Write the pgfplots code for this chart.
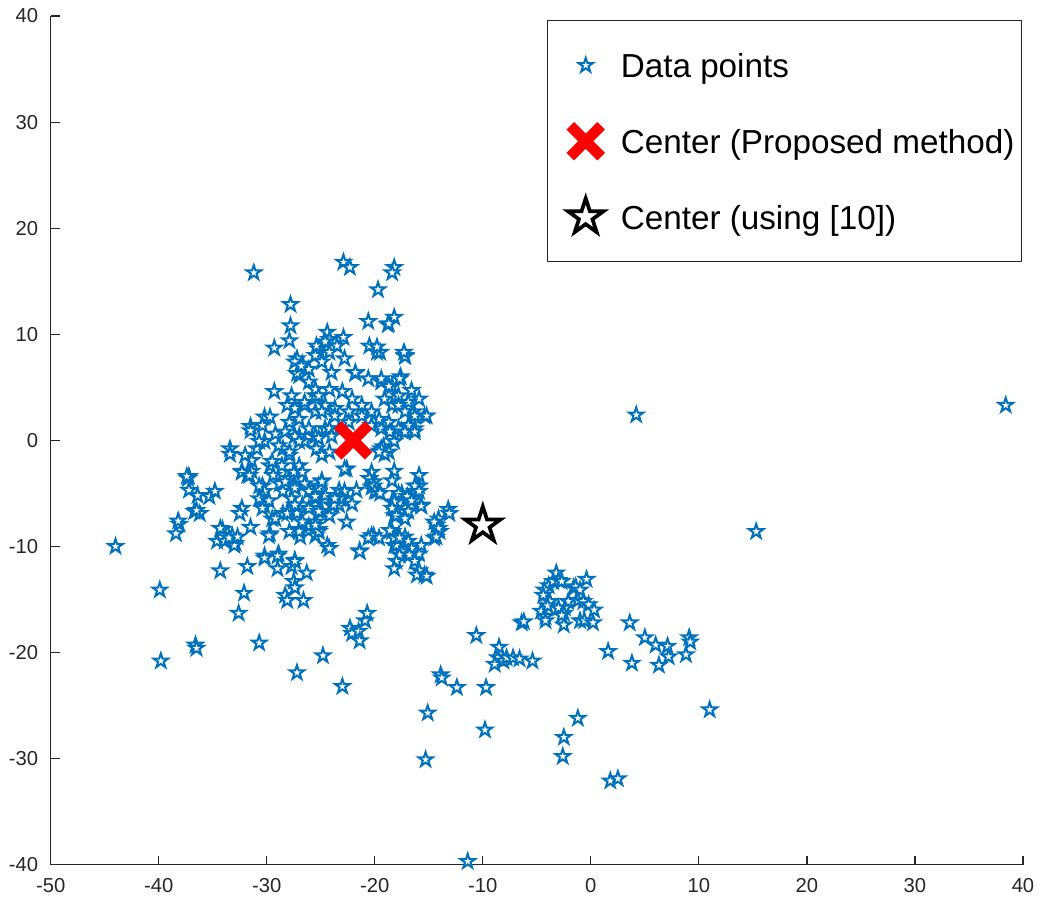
\documentclass[border=0pt]{standalone}
\usepackage{pgfplots}
\pgfplotsset{compat=1.18}
\usepackage{fontspec}
\setmainfont{Liberation Sans}
\definecolor{mblue}{rgb}{0,0.447,0.741}
\definecolor{axgray}{rgb}{0.15,0.15,0.15}
\pgfdeclareplotmark{pentagram}{%
  \pgfpathmoveto{\pgfpointpolar{90}{\pgfplotmarksize}}%
  \pgfpathlineto{\pgfpointpolar{126}{0.382*\pgfplotmarksize}}%
  \pgfpathlineto{\pgfpointpolar{162}{\pgfplotmarksize}}%
  \pgfpathlineto{\pgfpointpolar{198}{0.382*\pgfplotmarksize}}%
  \pgfpathlineto{\pgfpointpolar{234}{\pgfplotmarksize}}%
  \pgfpathlineto{\pgfpointpolar{270}{0.382*\pgfplotmarksize}}%
  \pgfpathlineto{\pgfpointpolar{306}{\pgfplotmarksize}}%
  \pgfpathlineto{\pgfpointpolar{342}{0.382*\pgfplotmarksize}}%
  \pgfpathlineto{\pgfpointpolar{18}{\pgfplotmarksize}}%
  \pgfpathlineto{\pgfpointpolar{54}{0.382*\pgfplotmarksize}}%
  \pgfpathclose
  \pgfusepathqfillstroke
}
\pgfplotsset{myleg/.style={legend image code/.code={\path (0pt,0pt) (21pt,0pt); \draw[##1] plot coordinates {(11.8pt,0pt)};}}}
\begin{document}
\begin{tikzpicture}
\begin{axis}[
  scale only axis, width=365.6pt, height=319.1pt,
  xmin=-50, xmax=40, ymin=-40, ymax=40,
  axis x line*=bottom, axis y line*=left,
  axis line style={axgray, line width=0.45pt},
  tick align=inside, major tick length=3.4pt,
  tick style={axgray, line width=0.45pt},
  xtick={-50,-40,...,40}, xticklabels={-50,-40,-30,-20,-10,0,10,20,30,40},
  ytick={-40,-30,...,40}, yticklabels={-40,-30,-20,-10,0,10,20,30,40},
  ticklabel style={font=\fontsize{7.6}{9}\selectfont, text=axgray},
  xticklabel style={yshift=-1.5pt},
  yticklabel style={xshift=-1.2pt},
  legend cell align=left,
  legend style={at={(1,1)}, anchor=north east, xshift=-0.4pt, yshift=-1.5pt,
    draw=axgray, line width=0.45pt, font=\fontsize{12.5}{15}\selectfont,
    inner xsep=0.6pt, inner ysep=8.5pt, row sep=11.8pt,
    nodes={text height=11pt, text depth=1.7pt, inner sep=2pt}},
]
\addplot[only marks, mark=pentagram, mark size=2.85pt, draw=mblue, fill=white, line width=0.75pt, myleg]
coordinates {
(-31.2,15.8) (-22.9,16.8) (-22.3,16.3) (-18.2,16.3) (-18.4,15.8) (-19.7,14.2) (-27.8,12.8) (-27.8,10.8) (-27.9,9.4) (-29.3,8.7) (-20.6,11.2) (-18.2,11.6) (-18.8,10.9) (-18.7,11.0) (-20.5,8.9) (-19.8,8.3) (-19.5,8.3) (-19.8,8.8) (-17.2,8.0) (-17.2,7.9) (-17.3,8.3)
(-24.4,10.2) (-24.2,9.5) (-22.9,9.7) (-23.5,8.9) (-25.2,8.6) (-25.5,8.0) (-27.2,7.7) (-26.7,7.2) (-27.0,6.1) (-26.1,6.7) (-17.6,6.0) (-21.8,6.3) (-20.6,5.8) (-19.4,5.5) (-18.4,5.1)
(-15.4,2.3) (-15.9,3.9) (-16.9,3.6) (-17.8,4.2) (-18.4,3.3) (-16.4,2.7) (-16.3,1.1) (-17.5,0.9) (-19.4,1.1) (-20.3,1.4) (-21.2,2.3) (-22.4,2.7) (-23.7,3.0) (-24.6,3.3) (-25.5,4.2) (-26.5,3.3) (-27.4,3.0) (-27.9,1.7) (-27.0,0.4) (-25.5,0.4) (-24.6,1.1) (-23.3,1.1) (-18.2,-0.1)
(-27.4,7.4) (-27.2,6.3) (-29.3,4.6) (-31.5,1.3) (-30.2,2.2) (-33.4,-0.8) (-26.8,7.0) (-25.4,8.9) (-29.7,2.2) (-30.4,1.4) (-28.1,3.3) (-26.1,5.5) (-25.5,4.8) (-27.7,4.2) (-26.5,3.6) (-27.0,2.0) (-25.5,2.7) (-26.1,1.1)
(-24.6,9.3) (-24.2,8.3) (-24.9,7.4) (-22.8,7.7) (-24.0,6.4) (-21.8,6.4) (-19.4,5.8) (-18.7,5.1) (-17.7,5.8) (-16.6,4.7) (-15.2,2.3) (-16.3,2.3) (-16.9,1.4) (-17.8,1.1) (-18.7,1.7) (-19.6,2.0) (-20.3,2.7) (-21.2,3.3) (-22.1,3.9) (-23.0,4.6) (-24.2,4.8) (-25.2,4.2) (-24.9,2.7) (-23.7,2.3) (-22.4,1.7) (-24.2,1.1) (-19.1,3.9) (-17.8,3.3) (-17.2,2.7)
(-31.5,0.9) (-33.4,-1.3) (-37.2,-3.4) (-37.2,-4.7) (-36.4,-5.2) (-35.3,-5.3) (-34.8,-4.8) (-36.7,-6.7) (-36.2,-6.9) (-32.3,-6.4) (-32.5,-6.9) (-31.5,-8.2) (-34.1,-8.4) (-34.6,-9.5) (-33.2,-9.0) (-32.9,-9.7) (-29.7,-8.8) (-31.8,-3.3) (-31.4,-2.9) (-32.3,-2.9) (-31.4,-1.9) (-30.9,-0.8) (-30.2,-0.1) (-29.2,0.6) (-28.3,0.8) (-27.4,0.4) (-26.5,-0.1) (-25.5,0.4) (-29.7,-2.4) (-29.4,-3.3) (-28.8,-4.1) (-27.9,-3.6) (-27.4,-4.3) (-26.5,-4.1) (-28.5,-4.8) (-27.7,-5.5) (-26.7,-6.1) (-25.5,-5.2) (-25.2,-4.3) (-30.4,-4.3) (-30.2,-4.8) (-30.7,-5.5) (-30.2,-6.2) (-29.5,-7.4) (-28.5,-6.9) (-27.9,-6.7) (-27.2,-6.9) (-26.1,-6.4) (-27.0,-8.4) (-26.1,-8.1) (-25.2,-8.4) (-25.5,-9.0) (-26.9,-9.1) (-30.2,-10.9) (-28.9,-10.7) (-27.9,-1.4) (-28.5,-0.8) (-27.0,-2.4)
(-38.1,-7.9) (-38.4,-8.8) (-44.0,-10.0) (-34.3,-8.3) (-33.9,-9.5) (-33.5,-9.2) (-33.0,-9.9) (-32.7,-9.1) (-39.9,-14.1) (-34.3,-12.3) (-31.8,-11.9) (-32.1,-14.4) (-30.2,-11.1) (-29.0,-10.9) (-27.4,-11.3) (-29.8,-9.0) (-29.0,-12.1) (-27.7,-11.9) (-27.5,-13.3) (-28.3,-14.6) (-32.0,-1.4) (-32.3,-3.0) (-31.6,-3.3) (-30.7,-4.3) (-29.8,-5.7) (-30.4,-6.4) (-29.2,-7.4) (-28.1,-6.9) (-27.4,-6.1) (-27.5,-3.0) (-28.6,-2.4) (-29.5,-2.0) (-27.9,-1.1) (-27.0,-0.1) (-28.9,-0.5) (-30.7,-0.1) (-36.5,-6.6) (-37.3,-3.6)
(-24.0,0.4) (-25.2,0.2) (-25.4,-0.8) (-24.9,-1.4) (-24.2,-1.1) (-19.5,-1.0) (-19.2,-0.6) (-18.7,-1.1) (-18.6,0.8) (-17.2,0.8) (-16.3,0.8) (-22.6,-2.7) (-20.3,-3.0) (-20.5,-3.6) (-18.2,-2.9) (-18.4,-3.8) (-15.9,-3.3) (-16.1,-4.3) (-24.9,-3.8) (-25.2,-4.5) (-25.5,-5.5) (-24.6,-5.2) (-24.0,-6.1) (-23.3,-4.7) (-22.8,-4.8) (-23.0,-5.5) (-22.1,-6.0) (-24.9,-6.7) (-24.2,-7.1) (-25.5,-7.7) (-25.2,-8.6) (-21.7,-4.7) (-20.3,-4.4) (-19.8,-4.8) (-20.1,-3.9) (-22.6,-7.7) (-18.4,-5.8) (-18.0,-6.4) (-18.2,-7.1) (-17.5,-5.0) (-16.9,-5.5) (-16.3,-4.8) (-16.6,-6.1) (-15.7,-6.1) (-15.9,-4.3) (-14.1,-7.4) (-14.3,-8.0) (-14.0,-8.6) (-14.5,-9.2) (-13.2,-6.5) (-20.1,-9.0) (-19.6,-9.2) (-18.4,-8.6) (-17.8,-9.0) (-17.2,-9.1) (-16.9,-9.5) (-18.2,-9.9) (-17.5,-10.5) (-16.6,-10.2) (-15.9,-10.7) (-21.4,-10.4) (-24.4,-9.9) (-15.7,-9.9)
(-22.8,-2.7) (-20.1,-4.3) (-16.3,-4.3) (-19.4,-0.8) (-19.1,-1.3) (-19.6,-1.1) (-23.2,-5.5) (-23.3,-6.1) (-20.0,-4.8) (-19.5,-5.0) (-17.8,-5.0) (-18.2,-5.8) (-18.4,-6.4) (-18.0,-7.1) (-17.0,-5.3) (-16.6,-5.7) (-15.9,-4.8) (-15.7,-6.2) (-16.9,-6.7) (-17.2,-7.4) (-24.2,-10.2) (-21.4,-10.5) (-20.3,-9.0) (-20.6,-9.2) (-18.6,-8.5) (-18.2,-9.2) (-18.0,-9.9) (-17.7,-9.2) (-17.7,-10.8) (-18.0,-11.4) (-18.2,-12.1) (-16.8,-10.8) (-16.3,-11.4) (-15.9,-12.3) (-15.4,-12.7) (-16.1,-12.7) (-14.5,-7.7) (-14.1,-8.3) (-14.3,-9.1) (-13.1,-6.9) (-27.4,-11.4) (-26.3,-12.5) (-27.0,-8.6) (-26.7,-7.7) (-27.9,-8.6) (-25.5,-8.0) (-25.2,-6.7) (-24.9,-3.9) (-23.8,-6.1) (-23.7,-5.5) (-28.3,-3.9) (-27.4,-4.5) (-26.7,-3.0) (-26.1,-4.8) (-25.5,-5.3)
(-32.6,-16.3) (-28.1,-15.1) (-26.6,-15.1) (-27.4,-13.9) (-30.7,-19.1) (-27.2,-21.9) (-24.8,-20.3) (-23.0,-23.2) (-22.3,-17.7) (-22.1,-18.2) (-21.5,-18.0) (-21.4,-18.9) (-20.9,-17.0) (-20.7,-16.3) (-11.4,-39.7) (-39.8,-20.8) (-36.6,-19.3) (-36.5,-19.6) (-38.2,-7.6) (-37.4,-3.4)
(4.2,2.4) (38.4,3.3) (15.3,-8.6) (11.0,-25.4)
(-15.2,-12.8) (-10.6,-18.4) (-8.5,-19.5) (-8.6,-20.5) (-8.9,-21.1) (-8.1,-20.8) (-7.8,-20.5) (-7.2,-20.5) (-6.6,-20.6) (-5.4,-20.8) (-6.4,-17.2) (-6.2,-17.1) (-13.9,-22.1) (-13.8,-22.4) (-12.4,-23.3) (-9.7,-23.3) (-15.1,-25.7) (-9.8,-27.3) (-15.3,-30.1) (-1.2,-26.2) (-2.5,-28.0) (-2.6,-29.8) (1.8,-32.1) (2.5,-31.9)
(-3.2,-12.5) (-0.4,-13.1) (-3.9,-13.7) (-3.5,-13.3) (-4.3,-14.1) (-4.4,-14.6) (-3.0,-13.2) (-2.7,-13.3) (-1.6,-13.9) (-1.4,-13.8) (-1.0,-14.1) (-2.1,-15.2) (-2.4,-15.8) (-2.5,-16.3) (-1.2,-15.1) (-0.7,-15.2) (-0.2,-15.5) (0.3,-16.0) (-4.6,-16.1) (-4.2,-16.6) (-4.2,-17.0) (-2.5,-17.4) (-1.0,-17.0) (-0.6,-17.0) (0.2,-17.2) (-3.8,-15.2) (-4.0,-15.6) (-3.0,-15.8) (-2.7,-16.5)
(3.6,-17.2) (5.0,-18.6) (1.6,-19.9) (3.8,-21.0) (6.0,-19.3) (7.1,-19.4) (6.3,-21.2) (7.2,-20.4) (8.8,-20.2) (9.1,-18.6) (9.2,-19.0)
};
\addlegendentry{Data points}
\addplot[only marks, mark=x, mark size=8.2pt, draw=red, line width=4pt, myleg]
coordinates {(-22,0)};
\addlegendentry{Center (Proposed method)}
\addplot[only marks, mark=pentagram, mark size=7pt, draw=black, fill=white, line width=1.4pt, myleg]
coordinates {(-10,-8)};
\addlegendentry{Center (using [10])}
\end{axis}
\path (-18pt,-14.25pt) rectangle (374.25pt,325.1pt);
\end{tikzpicture}
\end{document}
